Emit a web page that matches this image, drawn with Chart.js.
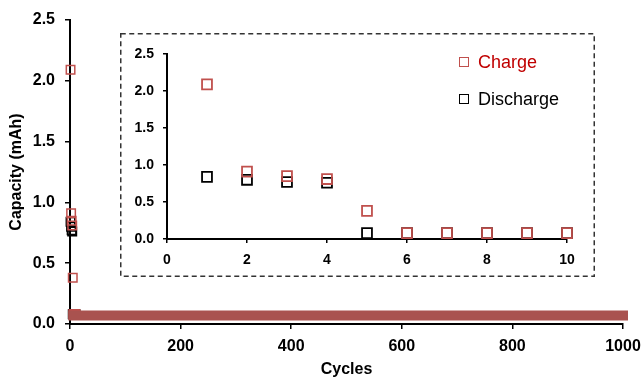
<!DOCTYPE html>
<html>
<head>
<meta charset="utf-8">
<script src="https://cdn.jsdelivr.net/npm/chart.js@4/dist/chart.umd.min.js"></script>
<style>
  html, body { margin: 0; padding: 0; background: #fff; }
  #wrap { position: relative; width: 643px; height: 377px; font-family: "Liberation Sans", Arial, sans-serif; }
  #main { position: absolute; left: 0; top: 0; }
  #inset { position: absolute; left: 120px; top: 33px; }
  .leg { position: absolute; left: 459px; font-size: 18px; line-height: 20px; }
  .leg span { position: absolute; left: 0; top: 5px; width: 10px; height: 10px; box-sizing: border-box; border: 1.5px solid; }
  .leg b { position: absolute; left: 19px; top: 0; font-weight: normal; white-space: nowrap; }
</style>
</head>
<body>
<div id="wrap">
  <canvas id="main" width="643" height="377"></canvas>
  <canvas id="inset" width="475" height="244"></canvas>
  <div class="leg" style="top:52px;color:#c00000"><span style="border-color:#c0504d"></span><b>Charge</b></div>
  <div class="leg" style="top:89px;color:#000"><span style="border-color:#000"></span><b>Discharge</b></div>
</div>
<script>
// first cycles
let cycles = [1, 2, 3, 4, 5, 6, 7, 8, 9, 10];
let charge = [2.09, 0.91, 0.85, 0.81, 0.38, 0.08, 0.08, 0.08, 0.08, 0.08];
let discharge = [0.84, 0.80, 0.77, 0.76, 0.08, 0.08, 0.08, 0.08, 0.08, 0.08];

// cycles 6..1000 all sit at ~0.07 and merge into one band
let bandCycles = [6, 1000];
let bandCapacity = [0.07, 0.07];

let mainXTicks = [0, 1000, 200];
let mainYTicks = [0, 2.5, 0.5];
let insetXTicks = [0, 10, 2];
let insetYTicks = [0, 2.5, 0.5];

const red = "#c0504d";
Chart.defaults.font.family = "'Liberation Sans', Arial, sans-serif";
Chart.defaults.color = "#000";

function pts(xs, ys) {
    return xs.map((x, i) => ({ x: x, y: ys[i] }));
}

function axis(t, fontSize, tick, pad, fitProp, fitVal, fmt, extra) {
    return Object.assign({
        type: "linear",
        min: t[0],
        max: t[1],
        border: { display: true, color: "#000", width: 2 },
        grid: { drawOnChartArea: false, color: "#000", lineWidth: 1.5, tickLength: tick },
        ticks: { stepSize: t[2], padding: pad, font: { size: fontSize, weight: "bold" }, callback: fmt },
        afterFit: function (s) {
            s[fitProp] = fitVal;
            s.paddingLeft = s.paddingRight = s.paddingTop = s.paddingBottom = 0;
        },
    }, extra || {});
}

const asInt = (v) => String(v);
const oneDec = (v) => v.toFixed(1);

var ctxMain = document.getElementById("main").getContext("2d");
window.chartMain = new Chart(ctxMain, {
    type: "scatter",
    data: {
        datasets: [
            {
                label: "band",
                type: "line",
                data: pts(bandCycles, bandCapacity),
                borderColor: "#a9524f",
                borderWidth: 10,
                borderCapStyle: "square",
                pointRadius: 0,
                clip: false,
                order: 1,
            },
            {
                label: "Charge",
                data: pts(cycles, charge),
                pointStyle: "rect",
                pointRadius: 6,
                borderColor: red,
                borderWidth: 1.5,
                backgroundColor: "rgba(0,0,0,0)",
                clip: false,
                order: 2,
            },
            {
                label: "Discharge",
                data: pts(cycles, discharge),
                pointStyle: "rect",
                pointRadius: 6,
                borderColor: "#000",
                borderWidth: 1.5,
                backgroundColor: "rgba(0,0,0,0)",
                clip: false,
                order: 3,
            },
        ],
    },
    options: {
        responsive: false,
        animation: false,
        devicePixelRatio: 1,
        layout: { padding: { left: 0, right: 20, top: 20, bottom: 0 } },
        plugins: { legend: { display: false }, tooltip: { enabled: false } },
        scales: {
            x: axis(mainXTicks, 16, 5, 8, "height", 53, asInt, {
                title: { display: true, text: "Cycles", font: { size: 16, weight: "bold" }, padding: { top: 0, bottom: -2 } },
            }),
            y: axis(mainYTicks, 16, 5, 10, "width", 70, oneDec, {
                title: { display: true, text: "Capacity (mAh)", font: { size: 16, weight: "bold" }, padding: { top: 7, bottom: 0 } },
            }),
        },
    },
});

// dashed frame + white fill behind the inset
const insetFrame = {
    id: "insetFrame",
    beforeDraw(chart) {
        const c = chart.ctx;
        c.save();
        c.fillStyle = "#fff";
        c.fillRect(0, 0, chart.width, chart.height);
        c.strokeStyle = "#333";
        c.lineWidth = 1.5;
        c.setLineDash([5, 3.5]);
        c.strokeRect(0.75, 0.75, chart.width - 1.5, chart.height - 1.5);
        c.restore();
    },
};

var ctxInset = document.getElementById("inset").getContext("2d");
window.chartInset = new Chart(ctxInset, {
    type: "scatter",
    data: {
        datasets: [
            {
                label: "Charge",
                data: pts(cycles, charge),
                pointStyle: "rect",
                pointRadius: 7,
                borderColor: red,
                borderWidth: 1.8,
                backgroundColor: "rgba(0,0,0,0)",
                clip: false,
                order: 1,
            },
            {
                label: "Discharge",
                data: pts(cycles, discharge),
                pointStyle: "rect",
                pointRadius: 7,
                borderColor: "#000",
                borderWidth: 1.8,
                backgroundColor: "rgba(0,0,0,0)",
                clip: false,
                order: 2,
            },
        ],
    },
    options: {
        responsive: false,
        animation: false,
        devicePixelRatio: 1,
        layout: { padding: { left: 0, right: 28, top: 21, bottom: 0 } },
        plugins: { legend: { display: false }, tooltip: { enabled: false } },
        scales: {
            x: axis(insetXTicks, 14, 4, 9, "height", 38, asInt),
            y: axis(insetYTicks, 14, 4, 9, "width", 47, oneDec),
        },
    },
    plugins: [insetFrame],
});
</script>
</body>
</html>
